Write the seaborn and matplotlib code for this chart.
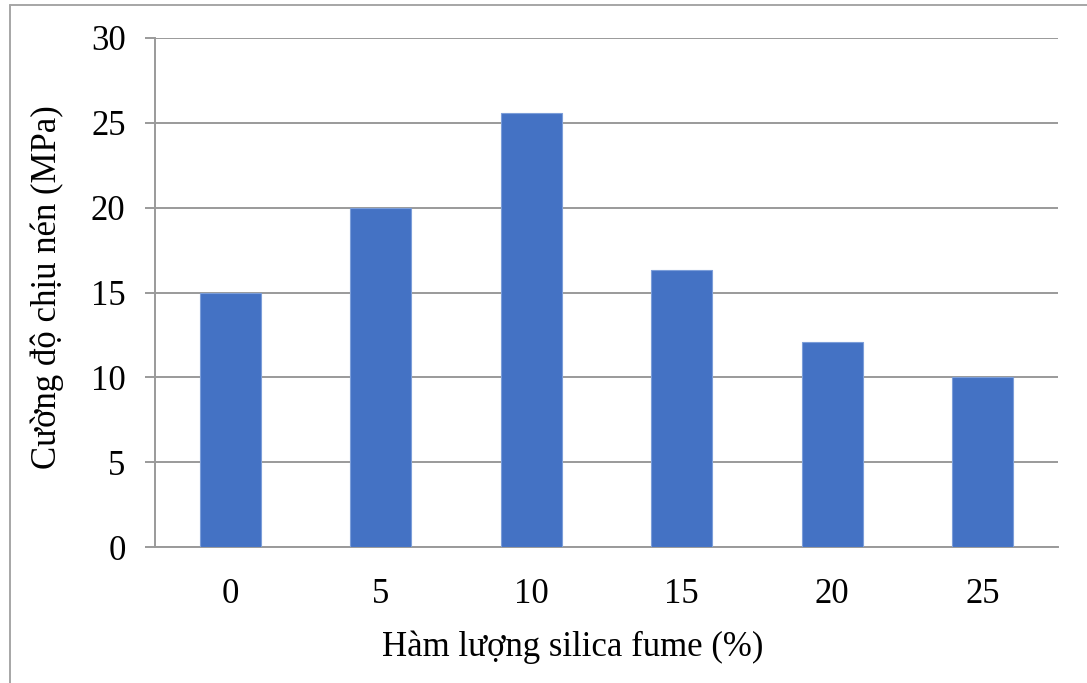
import matplotlib
matplotlib.use("Agg")
import matplotlib.pyplot as plt
import seaborn as sns
import pandas as pd
from matplotlib.lines import Line2D

categories = ["0", "5", "10", "15", "20", "25"]
values = [15.0, 20.0, 25.6, 16.3, 12.1, 10.0]
yticks = [0, 5, 10, 15, 20, 25, 30]
xlabel = "Hàm lượng silica fume (%)"
ylabel = "Cường độ chịu nén (MPa)"

df = pd.DataFrame({"sf": categories, "cs": values})

sns.set_theme(style="white")
plt.rcParams['font.family'] = ['Liberation Serif', 'DejaVu Serif']

W, H = 1087, 683
AX_L, AX_R, AX_T, AX_B = 155, 1058, 38, 547
fig = plt.figure(figsize=(W / 100, H / 100), dpi=100)
ax = fig.add_axes([AX_L / W, 1 - AX_B / H, (AX_R - AX_L) / W, (AX_B - AX_T) / H])

sns.barplot(data=df, x="sf", y="cs", order=categories, color="#4472C4",
            width=0.405, saturation=1, edgecolor="#7C9ED9", linewidth=0.8,
            ax=ax, zorder=3)

grid_c = "#9a9a9a"
fs = 25
ax.set_ylim(0, 30)
ax.set_xlim(-0.5, len(categories) - 0.5)
ax.set_yticks(yticks)
ax.set_yticklabels([str(t) for t in yticks])
ax.yaxis.grid(True, color=grid_c, linewidth=1.4, zorder=0)
ax.set_axisbelow(True)
for s in ["top", "right"]:
    ax.spines[s].set_visible(False)
ax.spines["left"].set_color(grid_c)
ax.spines["left"].set_linewidth(1.4)
ax.spines["bottom"].set_color(grid_c)
ax.spines["bottom"].set_linewidth(1.4)
ax.tick_params(axis="y", which="major", direction="out", length=7.2,
               width=1.4, color=grid_c, left=True, labelsize=fs, pad=14,
               labelcolor="black")
ax.tick_params(axis="x", length=0, labelsize=fs, pad=22, labelcolor="black")

ax.set_xlabel(xlabel, fontsize=fs, color="black")
ax.set_ylabel(ylabel, fontsize=fs, color="black")
aw, ah = AX_R - AX_L, AX_B - AX_T
ax.xaxis.set_label_coords((573 - AX_L) / aw, (AX_B - 631) / ah)
ax.yaxis.set_label_coords((64 - AX_L) / aw, (AX_B - 287) / ah)

# outer frame (left and top edges)
fig.add_artist(Line2D([10 / W, 10 / W], [0, 1 - 5 / H], transform=fig.transFigure,
                      color="#a6a6a6", linewidth=1.4))
fig.add_artist(Line2D([10 / W, 1], [1 - 5 / H, 1 - 5 / H], transform=fig.transFigure,
                      color="#a6a6a6", linewidth=1.4))

fig.savefig("out.png", dpi=100, facecolor="white")
